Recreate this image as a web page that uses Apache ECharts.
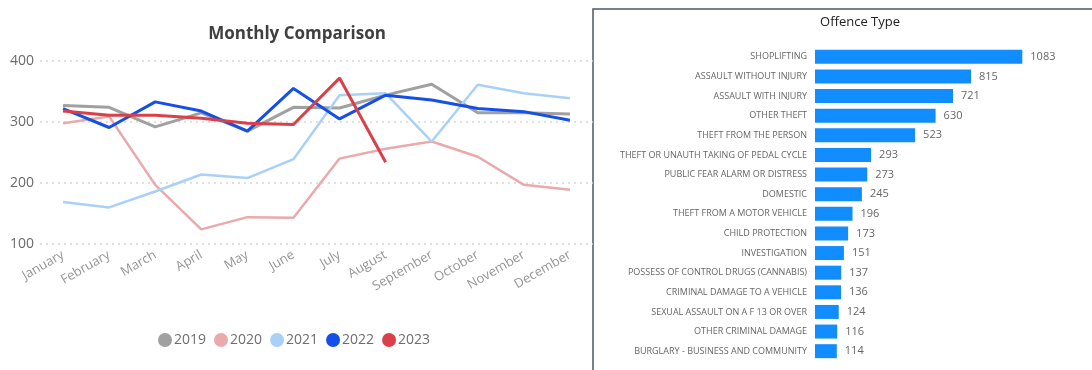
<!DOCTYPE html>
<html>
<head>
<meta charset="utf-8">
<script src="https://cdn.jsdelivr.net/npm/echarts@6/dist/echarts.min.js"></script>
<style>
  html, body { margin: 0; padding: 0; background: #fff; }
  #main { width: 1092px; height: 370px; }
</style>
</head>
<body>
<div id="main"></div>
<script>
// monthly comparison data
var months = ['January','February','March','April','May','June','July','August','September','October','November','December'];
var years = ['2019','2020','2021','2022','2023'];
var v2019 = [327, 324, 292, 315, 285, 324, 323, 344, 362, 315, 315, 313];
var v2020 = [298, 309, 197, 124, 144, 143, 240, 256, 268, 243, 197, 189];
var v2021 = [169, 160, 186, 214, 208, 239, 344, 347, 268, 361, 347, 339];
var v2022 = [322, 291, 333, 318, 285, 355, 305, 344, 336, 322, 317, 303];
var v2023 = [318, 311, 311, 306, 298, 296, 372, 234];
var yTicks = [100, 200, 300, 400];

// offence type data
var offences = ['SHOPLIFTING','ASSAULT WITHOUT INJURY','ASSAULT WITH INJURY','OTHER THEFT','THEFT FROM THE PERSON',
  'THEFT OR UNAUTH TAKING OF PEDAL CYCLE','PUBLIC FEAR ALARM OR DISTRESS','DOMESTIC','THEFT FROM A MOTOR VEHICLE',
  'CHILD PROTECTION','INVESTIGATION','POSSESS OF CONTROL DRUGS (CANNABIS)','CRIMINAL DAMAGE TO A VEHICLE',
  'SEXUAL ASSAULT ON A F 13 OR OVER','OTHER CRIMINAL DAMAGE','BURGLARY - BUSINESS AND COMMUNITY'];
var offenceCounts = [1083, 815, 721, 630, 523, 293, 273, 245, 196, 173, 151, 137, 136, 124, 116, 114];

var lineColors = ['#a0a0a0', '#eaa9ab', '#a9d1f7', '#1450e8', '#d9404a'];
var lineWidths = [3, 2.5, 2.5, 3, 3];
var lineData = [v2019, v2020, v2021, v2022, v2023];

var lineSeries = years.map(function (y, i) {
  return {
    name: y,
    type: 'line',
    xAxisIndex: 0,
    yAxisIndex: 0,
    data: lineData[i],
    symbol: 'none',
    z: 2 + i,
    lineStyle: { width: lineWidths[i], color: lineColors[i] },
    itemStyle: { color: lineColors[i] }
  };
});

var font = '"Open Sans", "Noto Sans", sans-serif';

var option = {
  animation: false,
  textStyle: { fontFamily: font },
  title: [
    {
      text: 'Monthly Comparison',
      left: 292, top: 21,
      textAlign: 'center',
      textStyle: { fontSize: 17, fontWeight: 'bold', color: '#404040', fontFamily: font }
    },
    {
      text: 'Offence Type',
      left: 855, top: 11,
      textAlign: 'center',
      textStyle: { fontSize: 13, fontWeight: 'normal', color: '#222', fontFamily: font }
    }
  ],
  legend: {
    data: years,
    left: 153, top: 328,
    icon: 'circle',
    itemWidth: 14, itemHeight: 14, itemGap: 8,
    textStyle: { fontSize: 14, color: '#6e6e6e', padding: [0, 0, 0, -3] }
  },
  graphic: [
    {
      type: 'rect',
      shape: { x: 593, y: 9, width: 520, height: 400 },
      style: { fill: 'none', stroke: '#4d5762', lineWidth: 1.5 },
      silent: true
    }
  ],
  grid: [
    { left: 40, right: 499, top: 61, bottom: 126 },
    { left: 815, right: 9, top: 47, bottom: 9 }
  ],
  xAxis: [
    {
      type: 'category',
      gridIndex: 0,
      data: months,
      boundaryGap: true,
      axisLine: { show: false },
      axisTick: { show: false },
      axisLabel: { rotate: 30, color: '#969696', fontSize: 13, interval: 0, margin: 10 }
    },
    {
      type: 'value',
      gridIndex: 1,
      min: 0, max: 1400,
      show: false
    }
  ],
  yAxis: [
    {
      type: 'value',
      gridIndex: 0,
      min: yTicks[0], max: yTicks[yTicks.length - 1], interval: 100,
      axisLine: { show: false },
      axisTick: { show: false },
      axisLabel: { color: '#6a6a6a', fontSize: 14, margin: 6 },
      splitLine: { lineStyle: { type: [2, 4], color: '#d6d6d6', width: 1.5 } }
    },
    {
      type: 'category',
      gridIndex: 1,
      data: offences,
      inverse: true,
      axisLine: { show: false },
      axisTick: { show: false },
      axisLabel: { color: '#666', fontSize: 9, margin: 8 }
    }
  ],
  series: lineSeries.concat([
    {
      name: 'Offences',
      type: 'bar',
      xAxisIndex: 1,
      yAxisIndex: 1,
      data: offenceCounts,
      barWidth: 14,
      itemStyle: { color: '#118dff' },
      label: {
        show: true,
        position: 'right',
        distance: 8,
        color: '#666',
        fontSize: 11
      }
    }
  ])
};

var chart = echarts.init(document.getElementById('main'));
chart.setOption(option);
</script>
</body>
</html>
